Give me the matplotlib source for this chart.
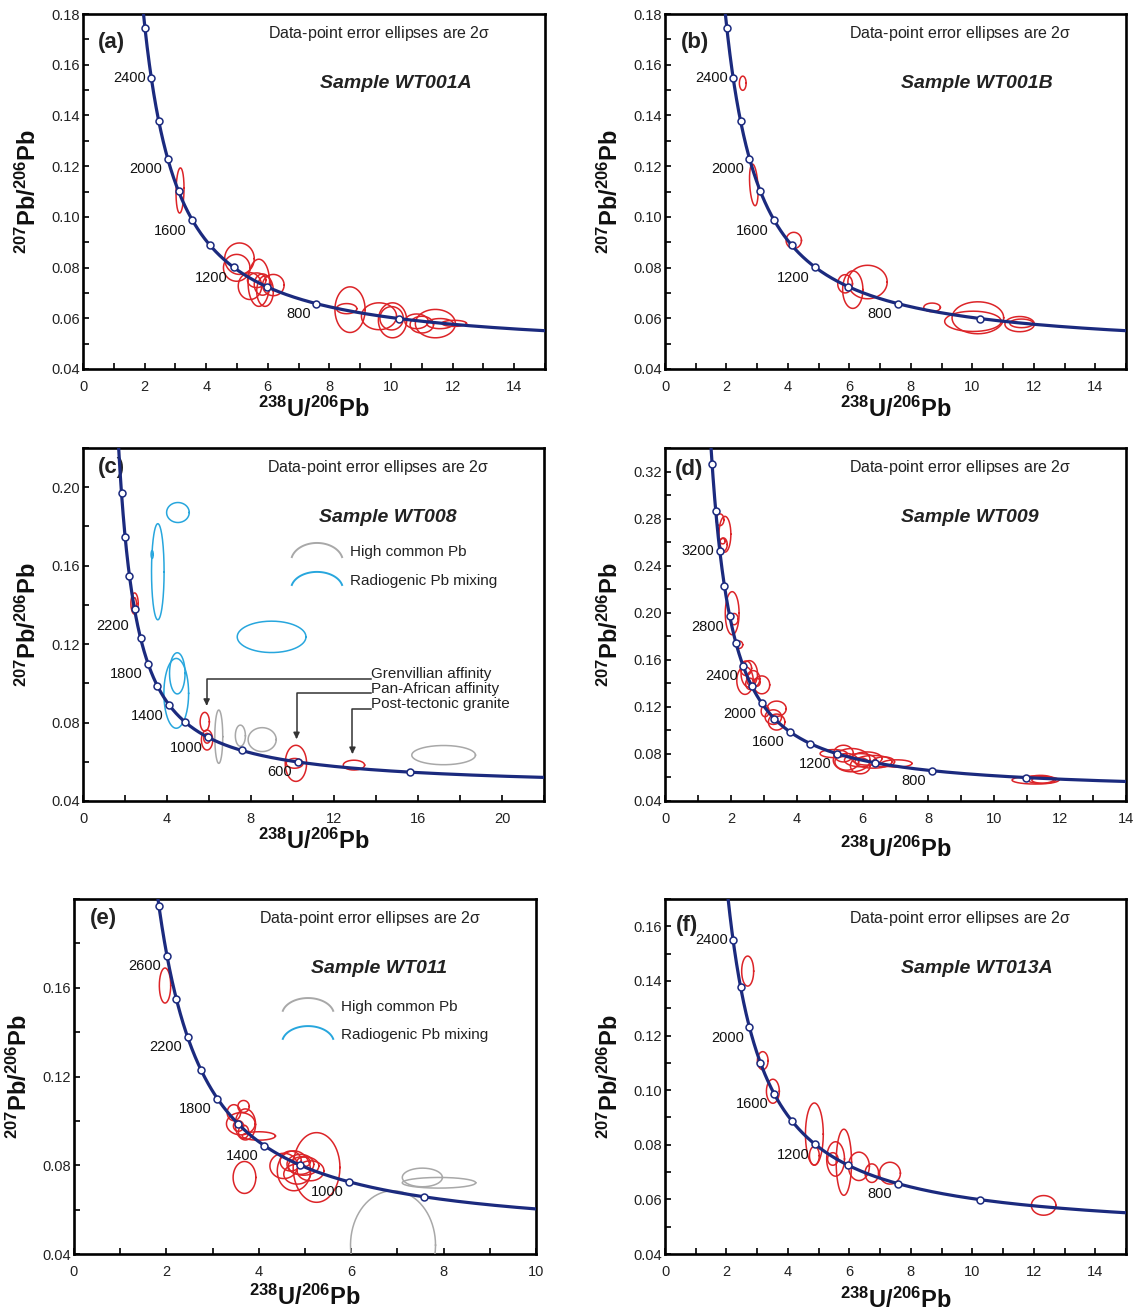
import numpy as np
import matplotlib
matplotlib.use('Agg')
import matplotlib.pyplot as plt
from matplotlib.ticker import MultipleLocator, FormatStrFormatter, FixedLocator

plt.rcParams['font.family'] = ['Liberation Sans', 'DejaVu Sans']
plt.rcParams['mathtext.default'] = 'regular'

# ---------------- data ----------------
# concordia age markers (Ma) and labelled ages
a_ages = [2800, 2600, 2400, 2200, 2000, 1800, 1600, 1400, 1200, 1000, 800, 600, 400]
a_labels = [2400, 2000, 1600, 1200, 800]
b_ages = a_ages
b_labels = [2400, 2000, 1600, 1200, 800]
c_ages = [2800, 2600, 2400, 2200, 2000, 1800, 1600, 1400, 1200, 1000, 800, 600, 400]
c_labels = [2200, 1800, 1400, 1000, 600]
d_ages = [3600, 3400, 3200, 3000, 2800, 2600, 2400, 2200, 2000, 1800, 1600, 1400, 1200, 1000, 800, 600]
d_labels = [3200, 2800, 2400, 2000, 1600, 1200, 800]
e_ages = [2800, 2600, 2400, 2200, 2000, 1800, 1600, 1400, 1200, 1000, 800]
e_labels = [2600, 2200, 1800, 1400, 1000]
f_ages = [2600, 2400, 2200, 2000, 1800, 1600, 1400, 1200, 1000, 800, 600]
f_labels = [2400, 2000, 1600, 1200, 800]

# y tick labels per panel
a_yticks = [0.04, 0.06, 0.08, 0.10, 0.12, 0.14, 0.16, 0.18]
b_yticks = a_yticks
c_yticks = [0.04, 0.08, 0.12, 0.16, 0.20]
d_yticks = [0.04, 0.08, 0.12, 0.16, 0.20, 0.24, 0.28, 0.32]
e_yticks = [0.04, 0.08, 0.12, 0.16]
f_yticks = [0.04, 0.06, 0.08, 0.10, 0.12, 0.14, 0.16]

# ellipses: centre (238U/206Pb, 207Pb/206Pb), 2-sigma half-errors, correlation
a_x   = [3.15, 5.08, 4.99, 5.71, 5.42, 5.83, 5.91, 6.18, 5.64, 8.67, 8.56, 9.61, 10.05, 10.02, 10.83, 11.44, 11.00, 12.05, 11.59]
a_y   = [0.1104, 0.0835, 0.0799, 0.0740, 0.0727, 0.0733, 0.0707, 0.0731, 0.0750, 0.0634, 0.0638, 0.0608, 0.0592, 0.0600, 0.0588, 0.0579, 0.0575, 0.0580, 0.0579]
a_sx  = [0.13, 0.48, 0.43, 0.35, 0.38, 0.27, 0.27, 0.35, 0.30, 0.49, 0.33, 0.57, 0.46, 0.38, 0.38, 0.65, 0.38, 0.40, 0.43]
a_sy  = [0.0089, 0.0062, 0.0053, 0.0093, 0.0053, 0.0042, 0.0060, 0.0042, 0.0029, 0.0090, 0.0020, 0.0053, 0.0069, 0.0046, 0.0029, 0.0056, 0.0033, 0.0012, 0.0020]
a_rho = [0.1] + [0.0] * 18

b_x   = [2.53, 2.89, 4.19, 5.86, 6.11, 6.59, 8.69, 10.18, 10.02, 11.54, 11.60]
b_y   = [0.1527, 0.1126, 0.0907, 0.0736, 0.0713, 0.0743, 0.0643, 0.0602, 0.0588, 0.0577, 0.0580]
b_sx  = [0.11, 0.14, 0.25, 0.24, 0.33, 0.64, 0.27, 0.84, 0.92, 0.48, 0.38]
b_sy  = [0.0028, 0.0082, 0.0032, 0.0036, 0.0074, 0.0066, 0.0017, 0.0063, 0.0040, 0.0030, 0.0017]
b_rho = [0.0, -0.3, 0.0, 0.0, 0.0, 0.0, 0.0, 0.0, 0.0, 0.0, 0.0]

c_red_x  = [2.46, 2.46, 5.81, 5.92, 5.92, 10.16, 10.10, 12.93]
c_red_y  = [0.1407, 0.1400, 0.0804, 0.0711, 0.0720, 0.0592, 0.0592, 0.0583]
c_red_sx = [0.175, 0.095, 0.22, 0.27, 0.16, 0.51, 0.40, 0.51]
c_red_sy = [0.0054, 0.0037, 0.0048, 0.0051, 0.0025, 0.0092, 0.0025, 0.0025]
c_grey_x  = [6.48, 7.51, 8.55, 17.21]
c_grey_y  = [0.0728, 0.0733, 0.0713, 0.0634]
c_grey_sx = [0.19, 0.24, 0.67, 1.52]
c_grey_sy = [0.0136, 0.0054, 0.0061, 0.0049]
c_blue_x  = [4.53, 3.57, 3.30, 9.00, 4.50, 4.45]
c_blue_y  = [0.1871, 0.1569, 0.1657, 0.1237, 0.1051, 0.0949]
c_blue_sx = [0.54, 0.30, 0.05, 1.64, 0.37, 0.59]
c_blue_sy = [0.0051, 0.0245, 0.0020, 0.0080, 0.0105, 0.0178]

d_x  = [1.82, 1.67, 1.75, 1.77, 2.04, 2.10, 2.26, 2.46, 2.56, 2.43, 2.68, 2.94, 2.58, 2.79,
        3.39, 3.29, 3.39, 3.04, 5.42, 5.12, 5.67, 5.93, 6.13, 6.33, 7.04, 6.64, 5.52, 5.93,
        11.25, 11.40, 11.50]
d_y  = [0.2667, 0.2790, 0.2608, 0.2580, 0.1996, 0.1946, 0.1728, 0.1528, 0.1480, 0.1424, 0.1438, 0.1387, 0.1396, 0.1409,
        0.1184, 0.1113, 0.1071, 0.1164, 0.0803, 0.0803, 0.0747, 0.0747, 0.0761, 0.0733, 0.0719, 0.0733, 0.0733, 0.0699,
        0.0578, 0.0584, 0.0578]
d_sx = [0.18, 0.12, 0.08, 0.12, 0.21, 0.12, 0.10, 0.17, 0.25, 0.25, 0.20, 0.24, 0.13, 0.10,
        0.29, 0.25, 0.25, 0.12, 0.30, 0.41, 0.56, 0.48, 0.46, 0.56, 0.46, 0.33, 0.36, 0.30,
        0.71, 0.41, 0.36]
d_sy = [0.0152, 0.0050, 0.0023, 0.0056, 0.0183, 0.0048, 0.0031, 0.0062, 0.0113, 0.0118, 0.0070, 0.0076, 0.0048, 0.0034,
        0.0065, 0.0062, 0.0068, 0.0048, 0.0071, 0.0034, 0.0099, 0.0056, 0.0056, 0.0054, 0.0031, 0.0042, 0.0071, 0.0068,
        0.0034, 0.0034, 0.0028]

e_red_x  = [1.97, 3.46, 3.67, 3.61, 3.71, 4.00, 3.56, 3.67, 3.69, 5.25, 4.54, 4.76, 4.90, 4.97, 5.12, 4.69, 4.97, 4.83]
e_red_y  = [0.1610, 0.1037, 0.1065, 0.0987, 0.0984, 0.0932, 0.0977, 0.0951, 0.0745, 0.0790, 0.0797, 0.0775, 0.0804, 0.0797, 0.0775, 0.0819, 0.0815, 0.0760]
e_red_sx = [0.123, 0.145, 0.123, 0.31, 0.22, 0.36, 0.11, 0.11, 0.246, 0.506, 0.30, 0.36, 0.29, 0.33, 0.29, 0.23, 0.145, 0.29]
e_red_sy = [0.0079, 0.0036, 0.0027, 0.0050, 0.0070, 0.0019, 0.0024, 0.0030, 0.0072, 0.0157, 0.0057, 0.0090, 0.0045, 0.0042, 0.0045, 0.0045, 0.0022, 0.0045]
e_grey_x  = [7.54, 7.90, 6.905]
e_grey_y  = [0.0745, 0.0721, 0.0440]
e_grey_sx = [0.434, 0.795, 0.92]
e_grey_sy = [0.0042, 0.0024, 0.0245]

f_x  = [2.69, 3.18, 3.51, 4.86, 4.86, 5.55, 5.46, 5.82, 6.31, 6.73, 7.32, 12.32]
f_y  = [0.1436, 0.1108, 0.0996, 0.0839, 0.0760, 0.0748, 0.0748, 0.0736, 0.0721, 0.0696, 0.0696, 0.0578]
f_sx = [0.195, 0.174, 0.21, 0.29, 0.16, 0.29, 0.17, 0.25, 0.34, 0.22, 0.34, 0.40]
f_sy = [0.0055, 0.0033, 0.0044, 0.0114, 0.0034, 0.0063, 0.0023, 0.0121, 0.0052, 0.0034, 0.0040, 0.0036]

samples = ['WT001A', 'WT001B', 'WT008', 'WT009', 'WT011', 'WT013A']
letters = ['(a)', '(b)', '(c)', '(d)', '(e)', '(f)']

# ---------------- style ----------------
NAVY = '#1b2a7e'
RED = '#dc2428'
GREY = '#a8a8a8'
BLUE = '#27a6dd'
W, H = 1137, 1315

L238 = 1.55125e-10
L235 = 9.8485e-10
U85 = 137.88


def concordia(t_ma):
    t = np.asarray(t_ma, dtype=float) * 1e6
    e8 = np.exp(L238 * t) - 1.0
    e5 = np.exp(L235 * t) - 1.0
    return 1.0 / e8, e5 / (e8 * U85)


def ellipse(ax, x, y, sx, sy, rho, color, lw=1.1):
    th = np.linspace(0, 2 * np.pi, 240)
    ex = x + sx * np.cos(th)
    ey = y + sy * (rho * np.cos(th) + np.sqrt(1 - rho ** 2) * np.sin(th))
    ax.plot(ex, ey, color=color, lw=lw, zorder=3)


fig = plt.figure(figsize=(W / 100, H / 100), dpi=100)


def make_axes(l, t, r, b):
    return fig.add_axes([l / W, 1 - b / H, (r - l) / W, (b - t) / H])


panels = [
    dict(box=(83, 14, 545, 369), xlim=(0, 15), ylim=(0.04, 0.18), xmaj=2, xmin=1, yt=a_yticks, ymin=0.01,
         ages=a_ages, labels=a_labels, first_dy=0, xlab_y=-0.113, letter_y=0.92, letter_x=0.033, xs=1.0),
    dict(box=(665, 14, 1126, 369), xlim=(0, 15), ylim=(0.04, 0.18), xmaj=2, xmin=1, yt=b_yticks, ymin=0.01,
         ages=b_ages, labels=b_labels, first_dy=0, xlab_y=-0.113, letter_y=0.92, letter_x=0.034, xs=1.0),
    dict(box=(83, 448, 544, 801), xlim=(0, 22), ylim=(0.04, 0.22), xmaj=4, xmin=2, yt=c_yticks, ymin=0.02,
         ages=c_ages, labels=c_labels, first_dy=-12, xlab_y=-0.115, letter_y=0.945, letter_x=0.033, xs=1.0),
    dict(box=(665, 448, 1126, 801), xlim=(0, 14), ylim=(0.04, 0.34), xmaj=2, xmin=1, yt=d_yticks, ymin=0.02,
         ages=d_ages, labels=d_labels, first_dy=0, xlab_y=-0.138, letter_y=0.938, letter_x=0.022, xs=1.07),
    dict(box=(74, 899, 536, 1254), xlim=(0, 10), ylim=(0.04, 0.20), xmaj=2, xmin=1, yt=e_yticks, ymin=0.02,
         ages=e_ages, labels=e_labels, first_dy=-7, xlab_y=-0.121, letter_y=0.944, letter_x=0.035, xs=1.0),
    dict(box=(665, 899, 1126, 1254), xlim=(0, 15), ylim=(0.04, 0.17), xmaj=2, xmin=1, yt=f_yticks, ymin=0.01,
         ages=f_ages, labels=f_labels, first_dy=0, xlab_y=-0.13, letter_y=0.924, letter_x=0.024, xs=1.0),
]

axes = []
for i, p in enumerate(panels):
    ax = make_axes(*p['box'])
    axes.append(ax)
    ax.set_xlim(*p['xlim'])
    ax.set_ylim(*p['ylim'])
    for s in ax.spines.values():
        s.set_linewidth(1.9)
    ax.xaxis.set_major_locator(MultipleLocator(p['xmaj']))
    ax.xaxis.set_minor_locator(MultipleLocator(p['xmin']))
    ax.yaxis.set_major_locator(FixedLocator(p['yt']))
    ax.yaxis.set_minor_locator(MultipleLocator(p['ymin']))
    ax.yaxis.set_major_formatter(FormatStrFormatter('%.2f'))
    ax.xaxis.set_major_formatter(FormatStrFormatter('%d'))
    ax.tick_params(which='both', direction='in', top=False, right=False, length=4.5, width=1.2,
                   labelsize=10.5, labelcolor='#222222')
    ax.tick_params(axis='x', pad=8)
    ax.tick_params(axis='y', pad=2)

    # concordia curve
    t = np.linspace(50, 4500, 3000)
    cx, cy = concordia(t)
    ax.plot(cx * p['xs'], cy, color=NAVY, lw=2.3, zorder=4, solid_capstyle='butt')
    mx, my = concordia(p['ages'])
    ax.plot(mx * p['xs'], my, 'o', ms=5, mfc='white', mec=NAVY, mew=1.1, zorder=5)
    for k, age in enumerate(p['labels']):
        lx, ly = concordia([age])
        dy = p['first_dy'] if k == 0 else -7.5
        ax.annotate(str(age), (lx[0] * p['xs'], ly[0]), xytext=(-4, dy), textcoords='offset points',
                    ha='right', va='center', fontsize=10.5, color='#111111', zorder=6)

    ax.text(0.40, 0.945, r'Data-point error ellipses are 2$\sigma$', transform=ax.transAxes,
            ha='left', va='center', fontsize=11.5, color='#222222')
    ax.text(0.512, 0.803, 'Sample ' + samples[i], transform=ax.transAxes, ha='left', va='center',
            fontsize=14, fontweight='bold', fontstyle='italic', color='#222222')
    ax.text(p['letter_x'], p['letter_y'], letters[i], transform=ax.transAxes, ha='left', va='center',
            fontsize=16, fontweight='bold', color='#222222')
    ax.text(0.5, p['xlab_y'], r'$^{238}$U/$^{206}$Pb', transform=ax.transAxes, ha='center', va='center',
            fontsize=17, fontweight='bold', color='#111111')
    ax.text(-0.118, 0.5, r'$^{207}$Pb/$^{206}$Pb', transform=ax.transAxes, ha='center', va='center',
            rotation=90, fontsize=17, fontweight='bold', color='#111111')

ax_a, ax_b, ax_c, ax_d, ax_e, ax_f = axes

for x, y, sx, sy, r in zip(a_x, a_y, a_sx, a_sy, a_rho):
    ellipse(ax_a, x, y, sx, sy, r, RED)
for x, y, sx, sy, r in zip(b_x, b_y, b_sx, b_sy, b_rho):
    ellipse(ax_b, x, y, sx, sy, r, RED)
for x, y, sx, sy in zip(c_red_x, c_red_y, c_red_sx, c_red_sy):
    ellipse(ax_c, x, y, sx, sy, 0.0, RED)
for x, y, sx, sy in zip(c_grey_x, c_grey_y, c_grey_sx, c_grey_sy):
    ellipse(ax_c, x, y, sx, sy, 0.0, GREY)
for x, y, sx, sy in zip(c_blue_x, c_blue_y, c_blue_sx, c_blue_sy):
    ellipse(ax_c, x, y, sx, sy, 0.0, BLUE)
for x, y, sx, sy in zip(d_x, d_y, d_sx, d_sy):
    ellipse(ax_d, x, y, sx, sy, 0.0, RED)
for x, y, sx, sy in zip(e_red_x, e_red_y, e_red_sx, e_red_sy):
    ellipse(ax_e, x, y, sx, sy, 0.0, RED)
for x, y, sx, sy in zip(e_grey_x, e_grey_y, e_grey_sx, e_grey_sy):
    ellipse(ax_e, x, y, sx, sy, 0.0, GREY)
for x, y, sx, sy in zip(f_x, f_y, f_sx, f_sy):
    ellipse(ax_f, x, y, sx, sy, 0.0, RED)


# legends (arc symbols) in panels c and e
def arc_legend(ax, x0, x1, ytop_g, ybot_g, ytop_b, ybot_b, tx, ty_g, ty_b):
    th = np.linspace(0.08 * np.pi, 0.92 * np.pi, 80)
    xc = (x0 + x1) / 2
    hw = (x1 - x0) / 2 / np.cos(0.08 * np.pi)
    for (yt, yb, col) in ((ytop_g, ybot_g, GREY), (ytop_b, ybot_b, BLUE)):
        hh = (yt - yb) / (1 - np.sin(0.08 * np.pi))
        base = yt - hh
        ax.plot(xc + hw * np.cos(th), base + hh * np.sin(th), color=col, lw=1.4, transform=ax.transAxes)
    ax.text(tx, ty_g, 'High common Pb', transform=ax.transAxes, ha='left', va='center', fontsize=11, color='#222222')
    ax.text(tx, ty_b, 'Radiogenic Pb mixing', transform=ax.transAxes, ha='left', va='center', fontsize=11, color='#222222')


arc_legend(ax_c, 0.453, 0.562, 0.731, 0.691, 0.649, 0.612, 0.579, 0.705, 0.623)
arc_legend(ax_e, 0.452, 0.561, 0.721, 0.685, 0.642, 0.606, 0.577, 0.697, 0.617)

# annotation leaders in panel c
notes = [('Grenvillian affinity', 0.1046, 0.1023, 5.9, 0.0872),
         ('Pan-African affinity', 0.0972, 0.0949, 10.19, 0.0702),
         ('Post-tectonic granite', 0.0894, 0.0867, 12.86, 0.0626)]
for txt, ty, ly, ax_x, ay in notes:
    ax_c.text(13.75, ty, txt, ha='left', va='center', fontsize=11, color='#222222')
    ax_c.plot([13.75, ax_x, ax_x], [ly, ly, ay + 0.003], color='#333333', lw=1.1)
    ax_c.annotate('', xy=(ax_x, ay), xytext=(ax_x, ay + 0.004),
                  arrowprops=dict(arrowstyle='-|>', color='#333333', lw=1.1, mutation_scale=9))

fig.savefig('out.png', dpi=100)
